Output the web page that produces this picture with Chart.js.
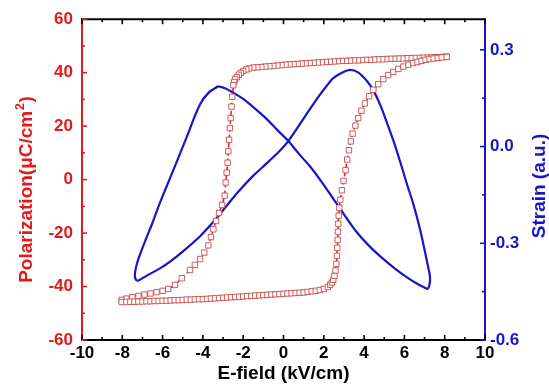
<!DOCTYPE html>
<html>
<head>
<meta charset="utf-8">
<script src="https://cdn.jsdelivr.net/npm/chart.js@4.4.1/dist/chart.umd.min.js"></script>
<style>
  html, body { margin: 0; padding: 0; background: #fff; }
  #chart { display: block; }
</style>
</head>
<body>
<canvas id="chart" width="549" height="388"></canvas>
<script>
// P-E loop, upper branch (field going down)
const upE = [8.1, 7.9, 7.7, 7.5, 7.3, 7.1, 6.9, 6.7, 6.5, 6.3,
  6.1, 5.9, 5.7, 5.5, 5.3, 5.1, 4.9, 4.7, 4.5, 4.3,
  4.1, 3.9, 3.7, 3.5, 3.3, 3.1, 2.9, 2.7, 2.5, 2.3,
  2.1, 1.9, 1.7, 1.5, 1.3, 1.1, 0.9, 0.7, 0.5, 0.3,
  0.1, -0.1, -0.3, -0.5, -0.7, -0.9, -1.1, -1.3, -1.5, -1.7,
  -1.85, -2.0, -2.12, -2.22, -2.32, -2.4, -2.45, -2.49,
  -2.54, -2.58, -2.62, -2.66, -2.7, -2.74, -2.77, -2.82, -2.87, -2.92,
  -3.05, -3.2, -3.35, -3.48, -3.6, -3.73, -3.93, -4.14, -4.4, -4.64,
  -5.05, -5.38, -5.72,
  -6.0, -6.3, -6.6, -6.9, -7.2, -7.5, -7.8, -8.03];
const upP = [46.0, 45.9, 45.8, 45.8, 45.7, 45.6, 45.6, 45.5, 45.5, 45.4,
  45.4, 45.3, 45.3, 45.2, 45.2, 45.1, 45.0, 45.0, 44.9, 44.8,
  44.8, 44.7, 44.6, 44.6, 44.5, 44.4, 44.4, 44.3, 44.2, 44.1,
  44.0, 43.9, 43.8, 43.7, 43.6, 43.5, 43.4, 43.3, 43.2, 43.1,
  43.0, 42.8, 42.7, 42.5, 42.4, 42.3, 42.1, 42.0, 41.9, 41.6,
  41.2, 40.6, 39.9, 39.2, 38.3, 37.5, 36.5, 35.3,
  31.0, 27.3, 23.0, 19.3, 14.9, 10.6, 6.3, 2.6, -1.1, -6.0,
  -9.5, -12.5, -15.5, -18.6, -21.5, -24.6, -27.3, -29.7, -31.9, -33.8,
  -36.9, -39.4, -40.9,
  -41.6, -42.1, -42.6, -43.0, -43.5, -44.0, -44.5, -45.0];

// P-E loop, lower branch (field going up)
const lowE = [-8.03, -7.8, -7.6, -7.4, -7.2, -7.0, -6.8, -6.6, -6.4, -6.2,
  -6.0, -5.8, -5.6, -5.4, -5.2, -5.0, -4.8, -4.6, -4.4, -4.2,
  -4.0, -3.8, -3.6, -3.4, -3.2, -3.0, -2.8, -2.6, -2.4, -2.2,
  -2.0, -1.8, -1.6, -1.4, -1.2, -1.0, -0.8, -0.6, -0.4, -0.2,
  0.0, 0.2, 0.4, 0.6, 0.8, 1.0, 1.2, 1.4, 1.6, 1.8,
  2.0, 2.2,
  2.32, 2.4, 2.47, 2.53, 2.58, 2.62, 2.65, 2.67, 2.69, 2.7,
  2.72, 2.74, 2.77, 2.82, 2.9, 2.98, 3.08, 3.16, 3.25, 3.34,
  3.43, 3.57, 3.71, 3.87, 4.04, 4.25, 4.46, 4.7, 4.95, 5.2,
  5.45, 5.7, 5.95, 6.2, 6.44, 6.65, 6.85, 7.05, 7.25, 7.45,
  7.65, 7.85, 8.1];
const lowP = [-45.8, -45.8, -45.7, -45.7, -45.6, -45.6, -45.5, -45.5, -45.4, -45.4,
  -45.3, -45.3, -45.2, -45.1, -45.1, -45.0, -44.9, -44.9, -44.8, -44.7,
  -44.7, -44.6, -44.5, -44.4, -44.3, -44.2, -44.1, -44.0, -43.9, -43.8,
  -43.7, -43.6, -43.5, -43.4, -43.3, -43.2, -43.1, -43.0, -42.9, -42.8,
  -42.7, -42.6, -42.5, -42.4, -42.3, -42.2, -42.0, -41.8, -41.6, -41.3,
  -40.9, -40.2,
  -39.3, -38.5, -37.5, -36.0, -34.0, -31.5, -28.5, -25.5, -22.5, -19.5,
  -16.5, -13.5, -10.5, -7.5, -4.0, -0.5, 3.5, 7.5, 11.0, 14.3,
  17.2, 20.2, 23.0, 25.8, 28.5, 31.2, 33.6, 35.7, 37.6, 39.1,
  40.3, 41.4, 42.3, 43.0, 43.6, 44.0, 44.4, 44.8, 45.1, 45.3,
  45.5, 45.7, 45.9];

// strain butterfly loop (closed, starts at the left peak)
const strainE = [-3.24, -2.9, -2.49, -2.0, -1.66, -1.2, -0.83, -0.3, 0.24, 0.8,
  1.32, 1.9, 2.47, 3.0, 3.63, 4.2, 4.79, 5.5, 6.11, 6.7,
  7.0, 7.15, 7.25, 7.27, 7.19, 7.0, 6.77, 6.45, 6.11, 5.78,
  5.45, 5.1, 4.79, 4.45, 4.13, 3.7, 3.3, 2.9, 2.47, 2.14,
  1.81, 1.3, 0.82, 0.24, -0.17, -0.8, -1.51, -2.1, -2.66, -3.4,
  -4.14, -4.99, -5.63, -6.13, -6.63, -7.0, -7.22, -7.35, -7.37, -7.27,
  -7.07, -6.82, -6.53, -6.13, -5.73, -5.33, -4.8, -4.14, -3.7, -3.24];
const strainS = [0.187, 0.181, 0.167, 0.148, 0.131, 0.106, 0.085, 0.051, 0.017, -0.025,
  -0.062, -0.11, -0.162, -0.21, -0.265, -0.305, -0.340, -0.377, -0.405, -0.428,
  -0.437, -0.441, -0.427, -0.403, -0.377, -0.32, -0.255, -0.18, -0.113, -0.045,
  0.019, 0.08, 0.131, 0.175, 0.204, 0.230, 0.238, 0.229, 0.212, 0.188,
  0.161, 0.115, 0.07, 0.017, -0.012, -0.05, -0.091, -0.13, -0.171, -0.228,
  -0.278, -0.325, -0.357, -0.378, -0.395, -0.408, -0.416, -0.41, -0.393, -0.362,
  -0.326, -0.286, -0.241, -0.174, -0.113, -0.052, 0.03, 0.131, 0.168, 0.187];

// axis ticks
const xMajor = [-10, -8, -6, -4, -2, 0, 2, 4, 6, 8, 10];
const xMinor = [-9, -7, -5, -3, -1, 1, 3, 5, 7, 9];
const pMajor = [-60, -40, -20, 0, 20, 40, 60];
const pMinor = [-50, -30, -10, 10, 30, 50];
const sMajor = [-0.6, -0.3, 0.0, 0.3];
const sMinor = [-0.45, -0.15, 0.15];

const xTitle = "E-field (kV/cm)";
const pTitle = ["Polarization(\u03bcC/cm", "2", ")"];
const sTitle = "Strain (a.u.)";

const RED = "#e3191c";
const BLUE = "#1616c6";
const FONT = "'Liberation Sans', Arial, Helvetica, sans-serif";
Chart.defaults.font.family = FONT;

const polPoints = upE.map((e, i) => ({ x: e, y: upP[i] }))
  .concat(lowE.map((e, i) => ({ x: e, y: lowP[i] })));
const strainPoints = strainE.map((e, i) => ({ x: e, y: strainS[i] }));

// inward tick marks, top frame line and the two side titles
const frame = {
  id: "frame",
  afterDraw(chart) {
    const { ctx, chartArea: a, scales } = chart;
    ctx.save();
    ctx.lineWidth = 2;
    ctx.strokeStyle = "#000";
    ctx.beginPath();
    ctx.moveTo(a.left - 1, a.top);
    ctx.lineTo(a.right, a.top);
    ctx.stroke();

    function mark(x1, y1, x2, y2, color) {
      ctx.strokeStyle = color;
      ctx.lineWidth = 1.6;
      ctx.beginPath();
      ctx.moveTo(x1, y1);
      ctx.lineTo(x2, y2);
      ctx.stroke();
    }
    xMajor.concat(xMinor).forEach(v => {
      const px = scales.x.getPixelForValue(v);
      const len = xMajor.includes(v) ? 5 : 3;
      mark(px, a.bottom, px, a.bottom - len, "#000");
      mark(px, a.top, px, a.top + len, "#000");
    });
    pMajor.concat(pMinor).forEach(v => {
      const py = scales.y.getPixelForValue(v);
      const len = pMajor.includes(v) ? 5 : 3;
      mark(a.left, py, a.left + len, py, RED);
    });
    sMajor.concat(sMinor).forEach(v => {
      const py = scales.y2.getPixelForValue(v);
      const len = sMajor.includes(v) ? 5 : 3;
      mark(a.right, py, a.right - len, py, BLUE);
    });

    // left title with superscript
    const big = "bold 19px " + FONT;
    const small = "bold 13px " + FONT;
    ctx.font = big;
    const w1 = ctx.measureText(pTitle[0]).width;
    const w3 = ctx.measureText(pTitle[2]).width;
    ctx.font = small;
    const w2 = ctx.measureText(pTitle[1]).width;
    ctx.save();
    ctx.translate(27, 190);
    ctx.rotate(-Math.PI / 2);
    ctx.fillStyle = RED;
    ctx.textBaseline = "middle";
    ctx.textAlign = "left";
    let sx = -(w1 + w2 + w3) / 2;
    ctx.font = big;
    ctx.fillText(pTitle[0], sx, 0);
    ctx.font = small;
    ctx.fillText(pTitle[1], sx + w1 + 0.5, -7);
    ctx.font = big;
    ctx.fillText(pTitle[2], sx + w1 + w2 + 1, 0);
    ctx.restore();

    // right title, reads bottom to top
    ctx.save();
    ctx.translate(540, 186);
    ctx.rotate(-Math.PI / 2);
    ctx.fillStyle = BLUE;
    ctx.font = big;
    ctx.textAlign = "center";
    ctx.textBaseline = "middle";
    ctx.fillText(sTitle, 0, 0);
    ctx.restore();
    ctx.restore();
  }
};

const tickFont = { size: 17, weight: "bold" };

new Chart(document.getElementById("chart"), {
  type: "scatter",
  data: {
    datasets: [
      {
        label: "Polarization",
        data: polPoints,
        yAxisID: "y",
        showLine: true,
        borderColor: RED,
        borderWidth: 1.5,
        borderDash: [5, 3],
        pointStyle: "rect",
        pointRadius: 3.8,
        pointBorderWidth: 1,
        pointBorderColor: "rgba(200,65,65,0.85)",
        pointBackgroundColor: "#fff",
        order: 1,
      },
      {
        label: "Strain",
        data: strainPoints,
        yAxisID: "y2",
        showLine: true,
        borderColor: BLUE,
        borderWidth: 2.2,
        pointRadius: 0,
        tension: 0.35,
        order: 2,
      },
    ],
  },
  options: {
    responsive: false,
    animation: false,
    devicePixelRatio: 1,
    layout: { padding: { top: 15, left: 0, right: 0, bottom: 0 } },
    plugins: { legend: { display: false }, tooltip: { enabled: false } },
    scales: {
      x: {
        type: "linear",
        position: "bottom",
        min: -10,
        max: 10,
        afterBuildTicks: s => { s.ticks = xMajor.map(v => ({ value: v })); },
        afterFit: s => { s.height = 48; },
        grid: { display: false, drawTicks: false },
        border: { display: true, color: "#000", width: 2 },
        ticks: { color: "#000", padding: 3, font: tickFont, autoSkip: false, maxRotation: 0,
          callback: v => String(v) },
        title: { display: true, text: xTitle, color: "#000",
          font: { size: 19, weight: "bold", lineHeight: 1 }, padding: { top: 0, bottom: 4.5 } },
      },
      y: {
        type: "linear",
        position: "left",
        min: -60,
        max: 60,
        afterBuildTicks: s => { s.ticks = pMajor.map(v => ({ value: v })); },
        afterFit: s => { s.width = 82; },
        grid: { display: false, drawTicks: false },
        border: { display: true, color: RED, width: 2 },
        ticks: { color: RED, padding: 9, font: tickFont, autoSkip: false, callback: v => String(v) },
      },
      y2: {
        type: "linear",
        position: "right",
        min: -0.6,
        max: 0.395,
        afterBuildTicks: s => { s.ticks = sMajor.map(v => ({ value: v })); },
        afterFit: s => { s.width = 64; },
        grid: { display: false, drawTicks: false },
        border: { display: true, color: BLUE, width: 2 },
        ticks: { color: BLUE, padding: 5, font: tickFont, autoSkip: false, callback: v => v.toFixed(1) },
      },
    },
  },
  plugins: [frame],
});
</script>
</body>
</html>
